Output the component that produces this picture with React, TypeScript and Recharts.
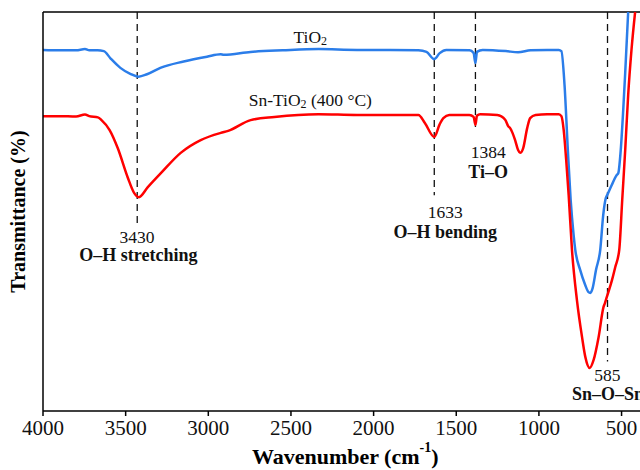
import { LineChart, Line, XAxis, YAxis, ReferenceLine, ReferenceDot } from "recharts";

// wavenumber (cm-1) and transmittance
const tio2Wn = [4000, 3900, 3800, 3746, 3720, 3670, 3632, 3592, 3532, 3472, 3422, 3371, 3290, 3149, 3008, 2925, 2907, 2744, 2550, 2333, 2100, 1900, 1729, 1680, 1633, 1600, 1560, 1420, 1395, 1384, 1375, 1340, 1200, 1126, 1050, 950, 880, 864, 845, 825, 808, 790, 780, 750, 720, 700, 689, 675, 655, 629, 611, 595, 587, 560, 530, 520, 505, 490, 478, 460];
const tio2T = [90.5, 90.4, 90.4, 90.7, 90.4, 90.4, 90.2, 88.4, 86.0, 84.5, 83.8, 84.4, 86.0, 87.6, 88.8, 89.4, 89.3, 90.0, 90.4, 90.7, 90.5, 90.5, 90.4, 90.0, 88.2, 89.7, 90.5, 90.4, 89.7, 87.2, 90.0, 90.5, 90.2, 89.9, 90.4, 90.5, 90.5, 90.2, 81.7, 65.4, 52.9, 44.1, 40.4, 35.3, 31.6, 29.8, 29.6, 30.8, 35.3, 40.4, 49.1, 53.4, 54.1, 56.6, 59.1, 59.6, 65.4, 75.4, 84.7, 100];

const snWn = [4000, 3900, 3800, 3746, 3720, 3668, 3646, 3597, 3548, 3488, 3448, 3420, 3366, 3287, 3167, 3046, 2925, 2880, 2744, 2600, 2333, 2100, 1900, 1729, 1690, 1633, 1600, 1578, 1542, 1421, 1395, 1384, 1375, 1355, 1252, 1204, 1186, 1174, 1144, 1126, 1114, 1095, 1071, 1053, 1020, 950, 880, 864, 850, 835, 820, 800, 770, 739, 719, 693, 669, 639, 609, 600, 589, 558, 538, 514, 496, 478, 460, 440, 418];
const snT = [73.9, 73.9, 73.8, 74.3, 73.9, 73.6, 72.9, 70.4, 65.9, 58.6, 54.6, 53.6, 56.1, 59.6, 64.7, 67.9, 69.7, 70.2, 72.9, 73.7, 74.4, 74.2, 74.2, 74.2, 72.2, 68.7, 71.9, 73.4, 74.2, 74.2, 73.7, 71.7, 74.0, 74.4, 74.2, 73.0, 71.4, 70.9, 67.9, 65.4, 64.7, 65.9, 70.9, 73.4, 74.2, 74.4, 74.4, 73.9, 70.4, 62.9, 54.1, 40.4, 27.8, 18.5, 13.5, 10.8, 12.8, 18.5, 26.1, 27.1, 28.6, 32.8, 36.1, 40.4, 52.9, 65.4, 79.2, 90.5, 100];

const xTicks = [4000, 3500, 3000, 2500, 2000, 1500, 1000, 500];

// marked bands: wavenumber and where the dashed line stops
const bandWn = [3430, 1633, 1384, 585];
const bandEnd = [46.9, 54.1, 70.4, 12.4];

// annotation text: [main, subscript, rest], anchor (wn, T), bold, textAnchor
const notes = [
  { parts: ["TiO", "2", ""], wn: 2383, t: 93.7, bold: false, anchor: "middle" },
  { parts: ["Sn-TiO", "2", " (400 °C)"], wn: 2383, t: 77.9, bold: false, anchor: "middle" },
  { parts: ["3430"], wn: 3431, t: 43.7, bold: false, anchor: "middle" },
  { parts: ["O–H stretching"], wn: 3423, t: 39.0, bold: true, anchor: "middle" },
  { parts: ["1633"], wn: 1566, t: 49.9, bold: false, anchor: "middle" },
  { parts: ["O–H bending"], wn: 1566, t: 44.9, bold: true, anchor: "middle" },
  { parts: ["1384"], wn: 1307, t: 64.9, bold: false, anchor: "middle" },
  { parts: ["Ti–O"], wn: 1307, t: 59.9, bold: true, anchor: "middle" },
  { parts: ["585"], wn: 586, t: 9.0, bold: false, anchor: "middle" },
  { parts: ["Sn–O–Sn"], wn: 800, t: 4.3, bold: true, anchor: "start" },
];

const tio2 = tio2Wn.map((wn, i) => ({ wn, t: tio2T[i] }));
const snTio2 = snWn.map((wn, i) => ({ wn, t: snT[i] }));

const FONT = "'Liberation Serif', 'Times New Roman', serif";

const noteLabel = (n: any) => (p: any) => {
  const vb = p.viewBox || {};
  const x = vb.x + (vb.width || 0) / 2;
  const y = vb.y + (vb.height || 0) / 2;
  return (
    <text x={x} y={y} textAnchor={n.anchor} dominantBaseline="central"
      fontFamily={FONT} fontSize={n.bold ? 18 : 17.5} fontWeight={n.bold ? "bold" : "normal"} fill="#111">
      {n.parts[0]}
      {n.parts.length > 1 && <tspan dy={4} fontSize={12}>{n.parts[1]}</tspan>}
      {n.parts.length > 1 && <tspan dy={-4}>{n.parts[2]}</tspan>}
    </text>
  );
};

const XTitle = (p: any) => {
  const vb = p.viewBox;
  return (
    <text x={vb.x + vb.width / 2 + 3} y={456} textAnchor="middle" dominantBaseline="central"
      fontFamily={FONT} fontSize={22} fontWeight="bold" fill="#000">
      Wavenumber (cm<tspan dy={-9} fontSize={14}>-1</tspan><tspan dy={9}>)</tspan>
    </text>
  );
};

const YTitle = (p: any) => {
  const vb = p.viewBox;
  const cy = vb.y + vb.height / 2;
  return (
    <text transform={`translate(18,${cy}) rotate(-90)`} textAnchor="middle" dominantBaseline="central"
      fontFamily={FONT} fontSize={20} fontWeight="bold" fill="#000">
      Transmittance (%)
    </text>
  );
};

export default function App() {
  return (
    <div style={{ position: "absolute", left: 0, top: 0, width: 640, height: 470, overflow: "hidden", background: "#fff" }}>
      <LineChart width={650} height={470} margin={{ top: 12, right: 8.6, bottom: 0, left: 0 }}>
        <XAxis dataKey="wn" type="number" domain={[380, 4000]} reversed allowDataOverflow
          ticks={xTicks} interval={0} height={59}
          axisLine={{ stroke: "#000", strokeWidth: 1.5 }}
          tickLine={{ stroke: "#000", strokeWidth: 1.5 }} tickSize={5} tickMargin={4}
          tick={{ fill: "#111", fontSize: 21, fontFamily: FONT }}
          label={XTitle} />
        <YAxis type="number" domain={[0, 100]} allowDataOverflow width={43}
          tick={false} tickLine={false}
          axisLine={{ stroke: "#000", strokeWidth: 1.5 }}
          label={YTitle} />
        <ReferenceLine y={100} stroke="#000" strokeWidth={1.5} />
        {bandWn.map((wn, i) => (
          <ReferenceLine key={"b" + i} segment={[{ x: wn, y: 100 }, { x: wn, y: bandEnd[i] }]}
            stroke="#111" strokeWidth={1.3} strokeDasharray="7 5" />
        ))}
        <Line data={tio2} dataKey="t" type="monotone" stroke="#2b7de9" strokeWidth={2.5}
          dot={false} isAnimationActive={false} />
        <Line data={snTio2} dataKey="t" type="monotone" stroke="#ff0000" strokeWidth={2.5}
          dot={false} isAnimationActive={false} />
        {notes.map((n, i) => (
          <ReferenceDot key={"n" + i} x={n.wn} y={n.t} r={0} fill="none" stroke="none"
            label={noteLabel(n)} />
        ))}
      </LineChart>
    </div>
  );
}
